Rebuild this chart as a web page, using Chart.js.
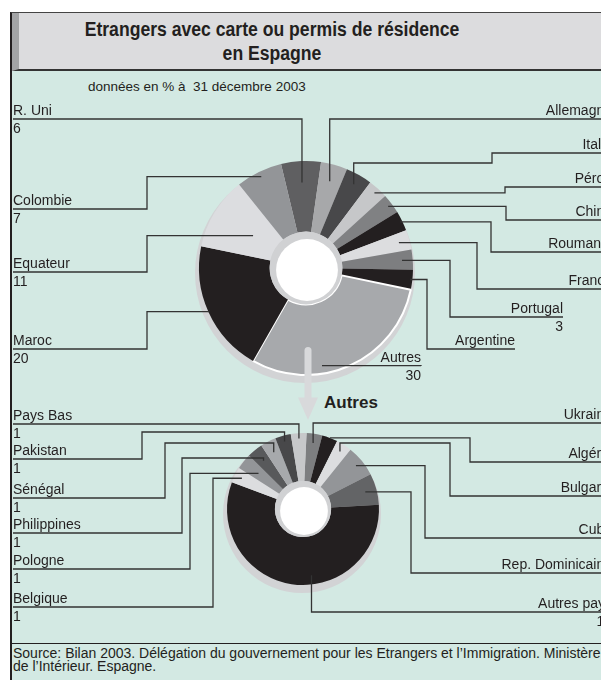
<!DOCTYPE html>
<html lang="fr">
<head>
<meta charset="utf-8">
<title>Etrangers avec carte ou permis de résidence en Espagne</title>
<script src="https://cdn.jsdelivr.net/npm/chart.js@4.4.0/dist/chart.umd.min.js"></script>
<style>
  html, body { margin: 0; overflow: hidden; }
  body { width: 601px; height: 680px; position: relative; background: #fff; color: #231f20;
         font-family: Arial, "Liberation Sans", sans-serif; }
  #cadre { position: absolute; left: 10px; top: 12px; width: 700px; height: 700px;
           border-left: 2px solid #231f20; border-top: 1px solid #444; background: #d3e9e3; }
  #bandeau { position: absolute; left: 12px; top: 13px; width: 700px; height: 56px;
             background: #dcdcde; border-left: 7px solid #a3a4a6; border-bottom: 2px solid #333; }
  #titre { position: absolute; left: 0; top: 17px; width: 544px; text-align: center;
           font-weight: bold; font-size: 20px; line-height: 24px;
           transform: scaleX(0.88); transform-origin: 272px 0; }
  #sousTitre { position: absolute; left: 88px; top: 79px; font-size: 13.5px; line-height: 16px; }
  #autresTitre { position: absolute; left: 324px; top: 393px; font-weight: bold; font-size: 17px; line-height: 20px; }
  #pied { position: absolute; left: 12px; top: 643px; width: 700px; border-top: 1.5px solid #231f20; }
  #source { position: absolute; left: 13px; top: 647px; width: 700px; font-size: 14px; line-height: 12.5px; white-space: nowrap; }
  canvas { position: absolute; left: 0; top: 0; }
</style>
</head>
<body>
<div id="cadre"></div>
<div id="bandeau"></div>
<div id="titre">Etrangers avec carte ou permis de résidence<br>en Espagne</div>
<div id="sousTitre">données en % à&nbsp; 31 décembre 2003</div>
<div id="autresTitre">Autres</div>
<div id="pied"></div>
<div id="source">Source: Bilan 2003. Délégation du gouvernement pour les Etrangers et l’Immigration. Ministère<br>de l’Intérieur. Espagne.</div>
<canvas id="camembert" width="620" height="680"></canvas>
<canvas id="camembertAutres" width="620" height="680"></canvas>
<script>
// parts en % (sens horaire depuis le haut)
const pays = ["R. Uni", "Allemagne", "Italie", "Pérou", "Chine", "Roumanie", "France",
  "Portugal", "Argentine", "Autres", "Maroc", "Equateur", "Colombie"];
const parts = [6, 4, 4, 3, 3, 3, 3, 3, 3, 30, 20, 11, 7];
const couleurs = ["#5f5f61", "#a7a8aa", "#48484a", "#c6c7c9", "#808183", "#231f20", "#dcdddf",
  "#7d7e80", "#231f20", "#a7a9ac", "#231f20", "#dcdde0", "#939598"];

// détail de "Autres"
const paysAutres = ["Ukraine", "Algérie", "Bulgarie", "Cuba", "Rep. Dominicaine", "Autres pays",
  "Belgique", "Pologne", "Philippines", "Sénégal", "Pakistan", "Pays Bas"];
const partsAutres = [1, 1, 1, 2, 2, 17, 1, 1, 1, 1, 1, 1];
const couleursAutres = ["#7d7e80", "#231f20", "#dcdddf", "#939598", "#636466", "#231f20",
  "#dcdddf", "#939598", "#58595b", "#a7a9ac", "#48484a", "#c7c8ca"];

// placement des étiquettes : x,y = trait sous le nom, via = coudes, entree = dernier segment
const etiquettes = {
  "R. Uni":    { x: 13,  y: 119, via: [], entree: "v", f: 0.8 },
  "Allemagne": { x: 612, y: 119, via: [], entree: "v", f: 0.84 },
  "Italie":    { x: 612, y: 153, via: [[492, 153], [492, 163]], entree: "v", f: 0.9 },
  "Pérou":     { x: 612, y: 187, via: [[505, 187]], entree: "h", f: 0.95 },
  "Chine":     { x: 612, y: 220, via: [[506, 220]], entree: "h", f: 0.96 },
  "Roumanie":  { x: 612, y: 252, via: [[491, 252]], entree: "h", f: 0.98 },
  "France":    { x: 612, y: 289, via: [[477, 289]], entree: "h", f: 0.9 },
  "Portugal":  { x: 563, y: 317, via: [[450, 317]], entree: "h", f: 0.9 },
  "Argentine": { x: 515, y: 349, via: [[427, 349]], entree: "h", f: 0.98, sansValeur: true },
  "Autres":    { x: 421, y: 366, via: [], entree: "h", f: 0.925, da: 15 },
  "Maroc":     { x: 13,  y: 349, via: [[147, 349]], entree: "h", f: 0.99 },
  "Equateur":  { x: 13,  y: 272, via: [[147, 272]], entree: "h", f: 0.58 },
  "Colombie":  { x: 13,  y: 209, via: [[147, 209]], entree: "h", f: 0.95 }
};
const etiquettesAutres = {
  "Ukraine":          { x: 612, y: 423, via: [], entree: "v", f: 0.88 },
  "Algérie":          { x: 612, y: 462, via: [[470, 462]], entree: "h", f: 1.0 },
  "Bulgarie":         { x: 612, y: 496, via: [[450, 496], [450, 443]], entree: "v", f: 0.9 },
  "Cuba":             { x: 612, y: 538, via: [[425, 538]], entree: "h", f: 0.9 },
  "Rep. Dominicaine": { x: 612, y: 573, via: [[411, 573]], entree: "h", f: 0.85 },
  "Autres pays":      { x: 612, y: 612, via: [], entree: "v", f: 0.88, da: -16 },
  "Belgique":         { x: 13, y: 607, via: [[213, 607]], entree: "h", f: 0.9 },
  "Pologne":          { x: 13, y: 569, via: [[190, 569]], entree: "h", f: 0.75 },
  "Philippines":      { x: 13, y: 533, via: [[182, 533], [182, 458]], entree: "v", f: 0.82 },
  "Sénégal":          { x: 13, y: 498, via: [[165, 498], [165, 443]], entree: "v", f: 0.84 },
  "Pakistan":         { x: 13, y: 459, via: [[142, 459], [142, 432]], entree: "v", f: 0.92 },
  "Pays Bas":         { x: 13, y: 424, via: [], entree: "v", f: 0.93 }
};

// ombre sous le disque + trou blanc au centre
const relief = {
  id: "relief",
  beforeDatasetsDraw(chart) {
    const arc = chart.getDatasetMeta(0).data[0];
    const ctx = chart.ctx;
    ctx.save();
    ctx.fillStyle = "#d2d3d5";
    ctx.beginPath();
    ctx.arc(arc.x - 1, arc.y + 5, arc.outerRadius + 3, 0, 2 * Math.PI);
    ctx.fill();
    ctx.restore();
  },
  afterDatasetsDraw(chart) {
    const arc = chart.getDatasetMeta(0).data[0];
    const ctx = chart.ctx;
    ctx.save();
    ctx.fillStyle = "#d0d1d3";
    ctx.beginPath();
    ctx.arc(arc.x, arc.y, arc.innerRadius, 0, 2 * Math.PI);
    ctx.fill();
    ctx.fillStyle = "#fff";
    ctx.beginPath();
    ctx.arc(arc.x + 1, arc.y + 2, arc.innerRadius * 0.85, 0, 2 * Math.PI);
    ctx.fill();
    ctx.restore();
  }
};

// flèche grise vers le détail
const fleche = {
  id: "fleche",
  afterDraw(chart) {
    const arc = chart.getDatasetMeta(0).data[0];
    const ctx = chart.ctx;
    const R = arc.outerRadius;
    const x = arc.x + 2;
    ctx.save();
    ctx.strokeStyle = "#d8d9db";
    ctx.fillStyle = "#d8d9db";
    ctx.lineWidth = 7;
    ctx.lineCap = "round";
    ctx.beginPath();
    ctx.moveTo(x, arc.y + R * 0.77);
    ctx.lineTo(x, arc.y + R * 1.24);
    ctx.stroke();
    ctx.beginPath();
    ctx.moveTo(x - 10, arc.y + R * 1.21);
    ctx.lineTo(x + 10, arc.y + R * 1.21);
    ctx.lineTo(x, arc.y + R * 1.42);
    ctx.closePath();
    ctx.fill();
    ctx.restore();
  }
};

function etiquettesPlugin(noms, valeurs, places) {
  return {
    id: "etiquettes",
    afterDraw(chart) {
      const ctx = chart.ctx;
      const arcs = chart.getDatasetMeta(0).data;
      ctx.save();
      ctx.font = '14px Arial, "Liberation Sans", sans-serif';
      ctx.fillStyle = "#231f20";
      ctx.strokeStyle = "#333";
      ctx.lineWidth = 1.3;
      noms.forEach(function (nom, i) {
        const p = places[nom];
        const arc = arcs[i];
        const mid = (arc.startAngle + arc.endAngle) / 2 + (p.da || 0) * Math.PI / 180;
        const r = arc.outerRadius * p.f;
        const ex = arc.x + r * Math.cos(mid);
        const ey = arc.y + r * Math.sin(mid);
        const droite = p.x > 300;
        const pts = [[droite && p.x > 600 ? 620 : p.x, p.y]].concat(p.via);
        const dernier = pts[pts.length - 1];
        if (p.entree === "v") pts.push([ex, dernier[1]]);
        else pts.push([dernier[0], ey]);
        pts.push([ex, ey]);
        ctx.beginPath();
        ctx.moveTo(pts[0][0], pts[0][1]);
        for (let k = 1; k < pts.length; k++) ctx.lineTo(pts[k][0], pts[k][1]);
        ctx.stroke();

        ctx.textAlign = droite ? "right" : "left";
        ctx.fillText(nom, p.x, p.y - 4);
        if (!p.sansValeur) ctx.fillText(String(valeurs[i]), p.x, p.y + 14);
      });
      ctx.restore();
    }
  };
}

Chart.defaults.font.family = 'Arial, "Liberation Sans", sans-serif';

new Chart(document.getElementById("camembert"), {
  type: "doughnut",
  data: {
    labels: pays,
    datasets: [{
      data: parts,
      backgroundColor: couleurs,
      borderColor: "#fff",
      borderWidth: pays.map(p => (p === "Autres" ? 2 : 0))
    }]
  },
  options: {
    responsive: false,
    animation: false,
    events: [],
    rotation: -13.5,
    cutout: "34%",
    layout: { padding: { left: 198, right: 206, top: 160, bottom: 304 } },
    plugins: { legend: { display: false }, tooltip: { enabled: false } }
  },
  plugins: [relief, fleche, etiquettesPlugin(pays, parts, etiquettes)]
});

new Chart(document.getElementById("camembertAutres"), {
  type: "doughnut",
  data: {
    labels: paysAutres,
    datasets: [{
      data: partsAutres,
      backgroundColor: couleursAutres,
      borderWidth: 0
    }]
  },
  options: {
    responsive: false,
    animation: false,
    events: [],
    rotation: 2.7,
    cutout: "37%",
    layout: { padding: { left: 227, right: 241, top: 433, bottom: 95 } },
    plugins: { legend: { display: false }, tooltip: { enabled: false } }
  },
  plugins: [relief, etiquettesPlugin(paysAutres, partsAutres, etiquettesAutres)]
});
</script>
</body>
</html>
